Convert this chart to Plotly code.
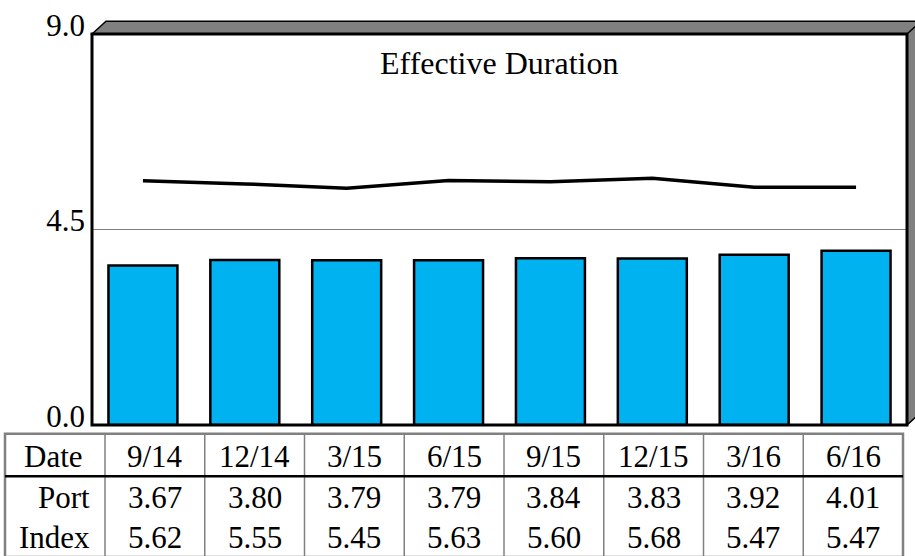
import plotly.graph_objects as go

# ---- data ----
dates = ['9/14', '12/14', '3/15', '6/15', '9/15', '12/15', '3/16', '6/16']
port = [3.67, 3.80, 3.79, 3.79, 3.84, 3.83, 3.92, 4.01]
index_vals = [5.62, 5.55, 5.45, 5.63, 5.60, 5.68, 5.47, 5.47]
y_ticks = [0.0, 4.5, 9.0]
y_tick_labels = ['0.0', '4.5', '9.0']
row_labels = ['Date', 'Port', 'Index']
title_text = 'Effective Duration'

W, H = 915, 556
L, R, T, B = 92, 907, 28, 425  # plot area in pixels
FONT = 'Liberation Serif'


def px(x):
    return (x - L) / (R - L)


def py(y):
    return (B - y) / (B - T)


fig = go.Figure()
fig.add_trace(go.Bar(
    x=list(range(len(dates))), y=port, width=0.677,
    marker=dict(color='#00B2F0', line=dict(color='black', width=2.5)),
    showlegend=False, hoverinfo='skip'))
fig.add_trace(go.Scatter(
    x=list(range(len(dates))), y=index_vals, mode='lines',
    line=dict(color='black', width=3.5), showlegend=False, hoverinfo='skip'))

shapes = []
# 3D shadow bands (top and right)
d = 14
shadow_path = (f"M {px(L)},{py(T)} L {px(L + d)},{py(T - 13)} L {px(R + d)},{py(T - 13)} "
               f"L {px(R + d)},{py(B - 13)} L {px(R)},{py(B)} L {px(R)},{py(T)} Z")
shapes.append(dict(type='path', path=shadow_path, xref='paper', yref='paper',
                   fillcolor='#808080', line=dict(color='black', width=1.5), layer='above'))
shapes.append(dict(type='line', xref='paper', yref='paper', x0=px(R), y0=py(T),
                   x1=px(R + d), y1=py(T - 13), line=dict(color='black', width=1.5)))
# front frame
shapes.append(dict(type='rect', xref='paper', yref='paper', x0=0, x1=1, y0=0, y1=1,
                   line=dict(color='black', width=3), fillcolor='rgba(0,0,0,0)', layer='above'))

# ---- table ----
tx0, tx1 = 5, 903
ty0, ty1 = 434, 559
col_first = 105
ncols = len(dates)
col_w = (tx1 - col_first) / ncols
sep_y = 477
grid_col = '#808080'
# outer border
shapes.append(dict(type='rect', xref='paper', yref='paper', x0=px(tx0), x1=px(tx1),
                   y0=py(ty1), y1=py(ty0), line=dict(color=grid_col, width=2.5)))
# vertical lines
for i in range(ncols):
    xv = col_first + i * col_w
    shapes.append(dict(type='line', xref='paper', yref='paper', x0=px(xv), x1=px(xv),
                       y0=py(ty0), y1=py(ty1), line=dict(color=grid_col, width=1.5)))
# header separator
shapes.append(dict(type='line', xref='paper', yref='paper', x0=px(tx0), x1=px(tx1),
                   y0=py(sep_y), y1=py(sep_y), line=dict(color='black', width=2.5)))

annotations = []
row_y = [457, 499, 539]
fnt = dict(family=FONT, size=31, color='black')
annotations.append(dict(text=row_labels[0], x=px(53), y=py(row_y[0]), xref='paper', yref='paper',
                        showarrow=False, xanchor='center', yanchor='middle', font=fnt))
for lbl, yy in zip(row_labels[1:], row_y[1:]):
    annotations.append(dict(text=lbl, x=px(92), y=py(yy), xref='paper', yref='paper',
                            showarrow=False, xanchor='right', yanchor='middle', font=fnt))
for i in range(ncols):
    cx = col_first + (i + 0.5) * col_w
    for txt, yy in ((dates[i], row_y[0]), (f"{port[i]:.2f}", row_y[1]), (f"{index_vals[i]:.2f}", row_y[2])):
        annotations.append(dict(text=txt, x=px(cx), y=py(yy), xref='paper', yref='paper',
                                showarrow=False, xanchor='center', yanchor='middle', font=fnt))
# title inside plot
annotations.append(dict(text=title_text, x=px(499), y=py(57), xref='paper', yref='paper',
                        showarrow=False, xanchor='center', yanchor='middle',
                        font=dict(family=FONT, size=32, color='black')))

fig.update_layout(
    width=W, height=H, autosize=False,
    margin=dict(l=L, r=W - R, t=T, b=H - B, pad=0),
    paper_bgcolor='white', plot_bgcolor='white',
    shapes=shapes, annotations=annotations,
    xaxis=dict(range=[-0.5, ncols - 0.5], showticklabels=False, showgrid=False,
               zeroline=False, showline=False, ticks=''),
    yaxis=dict(range=[0, 9], tickvals=y_ticks, ticktext=y_tick_labels,
               showgrid=True, gridcolor='#808080', gridwidth=1, zeroline=False,
               showline=False, ticks='', ticklabelstandoff=6, ticklabelshift=-9,
               tickfont=fnt),
    bargap=0.32,
)

fig.write_html('out.html', config={'displayModeBar': False},
               post_script="document.body.style.margin='0';")
